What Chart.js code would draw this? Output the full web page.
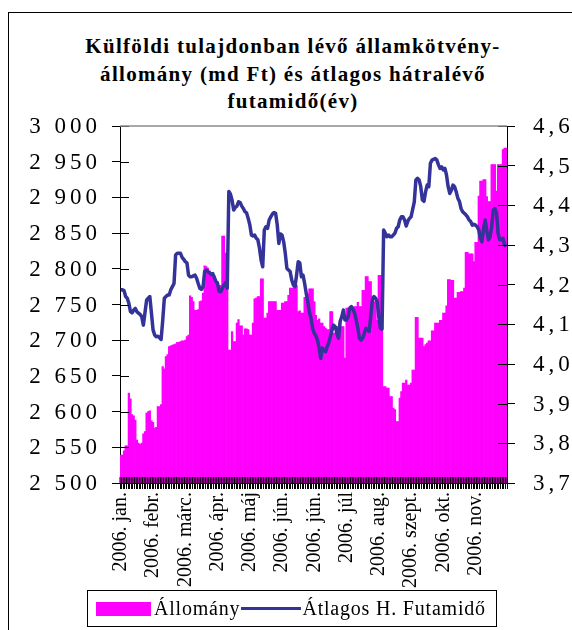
<!DOCTYPE html>
<html>
<head>
<meta charset="utf-8">
<script src="https://cdn.jsdelivr.net/npm/chart.js@4"></script>
<style>
  html, body { margin: 0; padding: 0; background: #fff; }
  body { width: 572px; height: 630px; position: relative; overflow: hidden; font-family: "Liberation Serif", "DejaVu Serif", serif; }
  #frame { position: absolute; left: 8px; top: 12px; width: 620px; height: 700px; border-left: 1px solid #000; border-top: 1px solid #000; }
  #title { position: absolute; left: 8px; width: 570px; top: 33px; text-align: center; font-weight: bold; font-size: 21px; line-height: 27.5px; letter-spacing: 1.3px; color: #000; }
  #chart { position: absolute; left: 0; top: 0; }
  #legend { position: absolute; left: 87px; top: 590px; width: 410px; height: 37px; box-sizing: border-box; border: 1px solid #000; display: flex; align-items: center; font-size: 20px; letter-spacing: 0.8px; white-space: nowrap; color: #000; }
  .sw { display: inline-block; flex: none; }
</style>
</head>
<body>
<div id="frame"></div>
<div id="title">Külföldi tulajdonban lévő államkötvény-<br>állomány (md Ft) és átlagos hátralévő<br>futamidő(év)</div>
<canvas id="chart" width="572" height="630"></canvas>
<div id="legend">
  <span class="sw" style="width:55px;height:14px;background:#ff00ff;margin-left:8px;"></span>
  <span id="lg0" style="margin-left:3px;"></span>
  <span class="sw" style="width:60px;height:3px;background:#333399;margin-left:1px;"></span>
  <span id="lg1" style="margin-left:1px;"></span>
</div>
<script>
// Month labels shown every 20 trading days
const monthLabels = ['2006. jan.', '2006. febr.', '2006. márc.', '2006. ápr.', '2006. máj', '2006. jún.',
                     '2006. jún.', '2006. júl', '2006. aug.', '2006. szept.', '2006. okt.', '2006. nov.'];
const labelStep = 20;

// Foreign-held government bond stock (bn HUF), daily
const allomany = [
  2539, 2539, 2545, 2552, 2552, 2626, 2618, 2596, 2594, 2588,
  2560, 2556, 2554, 2556, 2569, 2572, 2598, 2600, 2601, 2587,
  2585, 2577, 2578, 2607, 2607, 2610, 2663, 2660, 2677, 2680,
  2691, 2692, 2693, 2694, 2695, 2697, 2697, 2698, 2699, 2699,
  2700, 2705, 2707, 2762, 2760, 2754, 2742, 2742, 2743, 2754,
  2755, 2766, 2804, 2803, 2801, 2797, 2794, 2792, 2790, 2784,
  2782, 2777, 2777, 2846, 2846, 2822, 2778, 2686, 2686, 2712,
  2698, 2698, 2724, 2729, 2720, 2720, 2707, 2716, 2716, 2715,
  2707, 2707, 2724, 2758, 2759, 2761, 2761, 2786, 2786, 2731,
  2731, 2738, 2754, 2754, 2754, 2754, 2754, 2742, 2742, 2742,
  2752, 2752, 2754, 2754, 2763, 2773, 2773, 2773, 2774, 2777,
  2740, 2741, 2738, 2738, 2760, 2758, 2765, 2772, 2772, 2772,
  2754, 2735, 2728, 2730, 2724, 2724, 2719, 2717, 2715, 2715,
  2740, 2740, 2710, 2710, 2719, 2719, 2728, 2719, 2719, 2675,
  2745, 2745, 2747, 2743, 2743, 2747, 2747, 2753, 2747, 2747,
  2770, 2770, 2789, 2789, 2782, 2782, 2761, 2754, 2754, 2728,
  2791, 2791, 2728, 2635, 2635, 2633, 2633, 2621, 2621, 2605,
  2603, 2586, 2586, 2619, 2628, 2640, 2640, 2644, 2637, 2637,
  2640, 2658, 2658, 2732, 2732, 2703, 2703, 2703, 2691, 2694,
  2696, 2699, 2699, 2713, 2713, 2724, 2724, 2724, 2728, 2728,
  2738, 2738, 2748, 2785, 2785, 2784, 2784, 2759, 2759, 2767,
  2767, 2768, 2768, 2773, 2823, 2823, 2821, 2821, 2821, 2810,
  2837, 2837, 2902, 2923, 2923, 2925, 2925, 2901, 2894, 2894,
  2946, 2946, 2946, 2909, 2946, 2946, 2946, 2967, 2969, 2969
];

// Average remaining maturity (years), daily
const futamido = [
  4.187, 4.187, 4.185, 4.170, 4.166, 4.153, 4.132, 4.129, 4.136, 4.140,
  4.132, 4.128, 4.125, 4.119, 4.098, 4.130, 4.161, 4.166, 4.170, 4.128,
  4.086, 4.073, 4.069, 4.070, 4.066, 4.062, 4.110, 4.166, 4.170, 4.174,
  4.174, 4.187, 4.195, 4.203, 4.275, 4.279, 4.279, 4.279, 4.269, 4.264,
  4.258, 4.255, 4.224, 4.220, 4.220, 4.222, 4.224, 4.216, 4.203, 4.191,
  4.188, 4.195, 4.233, 4.237, 4.233, 4.230, 4.226, 4.228, 4.218, 4.208,
  4.203, 4.183, 4.182, 4.191, 4.199, 4.205, 4.191, 4.435, 4.428, 4.413,
  4.388, 4.395, 4.398, 4.409, 4.407, 4.398, 4.392, 4.384, 4.381, 4.367,
  4.351, 4.325, 4.323, 4.325, 4.317, 4.313, 4.292, 4.262, 4.245, 4.338,
  4.346, 4.342, 4.363, 4.371, 4.378, 4.382, 4.380, 4.351, 4.304, 4.328,
  4.325, 4.308, 4.279, 4.241, 4.237, 4.233, 4.212, 4.199, 4.195, 4.224,
  4.258, 4.255, 4.220, 4.224, 4.203, 4.178, 4.155, 4.130, 4.115, 4.090,
  4.077, 4.071, 4.060, 4.040, 4.014, 4.040, 4.035, 4.031, 4.044, 4.054,
  4.069, 4.086, 4.098, 4.094, 4.077, 4.065, 4.107, 4.119, 4.136, 4.111,
  4.111, 4.119, 4.140, 4.145, 4.138, 4.128, 4.111, 4.090, 4.065, 4.060,
  4.065, 4.077, 4.090, 4.086, 4.082, 4.119, 4.161, 4.170, 4.166, 4.157,
  4.119, 4.090, 4.088, 4.338, 4.330, 4.321, 4.325, 4.321, 4.321, 4.325,
  4.330, 4.342, 4.346, 4.363, 4.371, 4.371, 4.363, 4.348, 4.360, 4.367,
  4.371, 4.390, 4.409, 4.464, 4.468, 4.464, 4.447, 4.414, 4.410, 4.434,
  4.451, 4.447, 4.506, 4.514, 4.516, 4.518, 4.514, 4.502, 4.493, 4.497,
  4.489, 4.493, 4.476, 4.447, 4.430, 4.438, 4.451, 4.447, 4.434, 4.418,
  4.410, 4.392, 4.384, 4.380, 4.376, 4.371, 4.363, 4.359, 4.350, 4.352,
  4.350, 4.346, 4.338, 4.317, 4.308, 4.342, 4.363, 4.335, 4.313, 4.320,
  4.346, 4.388, 4.392, 4.380, 4.329, 4.313, 4.313, 4.317, 4.300, 4.296
];

const seriesNames = ['Állomány', 'Átlagos H. Futamidő'];

// One category per trading day; only every labelStep-th carries a month name
const categories = allomany.map((_, i) => (i % labelStep === 0 ? (monthLabels[i / labelStep] || '') : ''));

document.getElementById('lg0').textContent = seriesNames[0];
document.getElementById('lg1').textContent = seriesNames[1];

const FONT = '"Liberation Serif", "DejaVu Serif", serif';

function thousands(v) {
  return String(Math.round(v)).replace(/\B(?=(\d{3})+(?!\d))/g, ' ');
}
function decimalComma(v) {
  return v.toFixed(1).replace('.', ',');
}

// Cross-over tick marks, the grey top edge, and widely spaced value-axis labels
const axisDecor = {
  id: 'axisDecor',
  afterDraw(chart) {
    const ctx = chart.ctx;
    const a = chart.chartArea;
    const yL = chart.scales.y, yR = chart.scales.y1;
    ctx.save();
    ctx.strokeStyle = '#000';
    ctx.lineWidth = 1;
    ctx.beginPath();
    yL.ticks.forEach(t => {
      const py = Math.round(yL.getPixelForValue(t.value)) + 0.5;
      ctx.moveTo(a.left, py); ctx.lineTo(a.left + 9, py);
    });
    yR.ticks.forEach(t => {
      const py = Math.round(yR.getPixelForValue(t.value)) + 0.5;
      ctx.moveTo(a.right - 9, py); ctx.lineTo(a.right, py);
    });
    const n = categories.length;
    for (let i = 0; i <= n; i++) {
      const px = a.left + (a.right - a.left) * i / n;
      ctx.moveTo(px, a.bottom - 6); ctx.lineTo(px, a.bottom);
    }
    ctx.stroke();
    ctx.strokeStyle = '#8c8c8c';
    ctx.lineWidth = 1.5;
    ctx.beginPath();
    ctx.moveTo(a.left, a.top); ctx.lineTo(a.right, a.top);
    ctx.stroke();

    ctx.fillStyle = '#000';
    ctx.font = '23px ' + FONT;
    ctx.letterSpacing = '4px';
    ctx.textBaseline = 'middle';
    ctx.textAlign = 'right';
    yL.ticks.forEach(t => {
      ctx.fillText(thousands(t.value), a.left - 23 + 4, yL.getPixelForValue(t.value) + 1);
    });
    ctx.textAlign = 'left';
    yR.ticks.forEach(t => {
      ctx.fillText(decimalComma(t.value), a.right + 26, yR.getPixelForValue(t.value) + 1);
    });
    ctx.restore();
  }
};

new Chart(document.getElementById('chart'), {
  data: {
    labels: categories,
    datasets: [
      {
        type: 'line',
        label: seriesNames[1],
        data: futamido,
        yAxisID: 'y1',
        borderColor: '#333399',
        borderWidth: 3.5,
        pointRadius: 0,
        tension: 0,
        borderJoinStyle: 'round',
        order: 0
      },
      {
        type: 'bar',
        label: seriesNames[0],
        data: allomany,
        yAxisID: 'y',
        backgroundColor: '#ff00ff',
        borderWidth: 0,
        barPercentage: 1,
        categoryPercentage: 1,
        order: 1
      }
    ]
  },
  options: {
    responsive: false,
    animation: false,
    devicePixelRatio: 1,
    layout: { padding: { top: 126, left: 0, right: 0, bottom: 0 } },
    plugins: { legend: { display: false }, title: { display: false }, tooltip: { enabled: false } },
    scales: {
      x: {
        type: 'category',
        offset: true,
        z: 1,
        grid: { display: true, drawOnChartArea: false, drawTicks: true, tickLength: 6, color: '#000', offset: true },
        border: { display: true, color: '#000', width: 1 },
        ticks: { autoSkip: false, maxRotation: 90, minRotation: 90, padding: 3, color: '#000', font: { family: FONT, size: 20 } },
        afterFit(s) { s.height = 147; }
      },
      y: {
        position: 'left',
        min: 2500, max: 3000,
        z: 1,
        grid: { drawOnChartArea: false, tickLength: 8, color: '#000' },
        border: { display: true, color: '#000', width: 1 },
        ticks: { stepSize: 50, display: false, callback: v => thousands(v) },
        afterFit(s) { s.width = 120; }
      },
      y1: {
        position: 'right',
        min: 3.7, max: 4.6,
        z: 1,
        grid: { drawOnChartArea: false, tickLength: 8, color: '#000' },
        border: { display: true, color: '#000', width: 1 },
        ticks: { stepSize: 0.1, display: false, callback: v => decimalComma(v) },
        afterFit(s) { s.width = 65; }
      }
    }
  },
  plugins: [axisDecor]
});
</script>
</body>
</html>
